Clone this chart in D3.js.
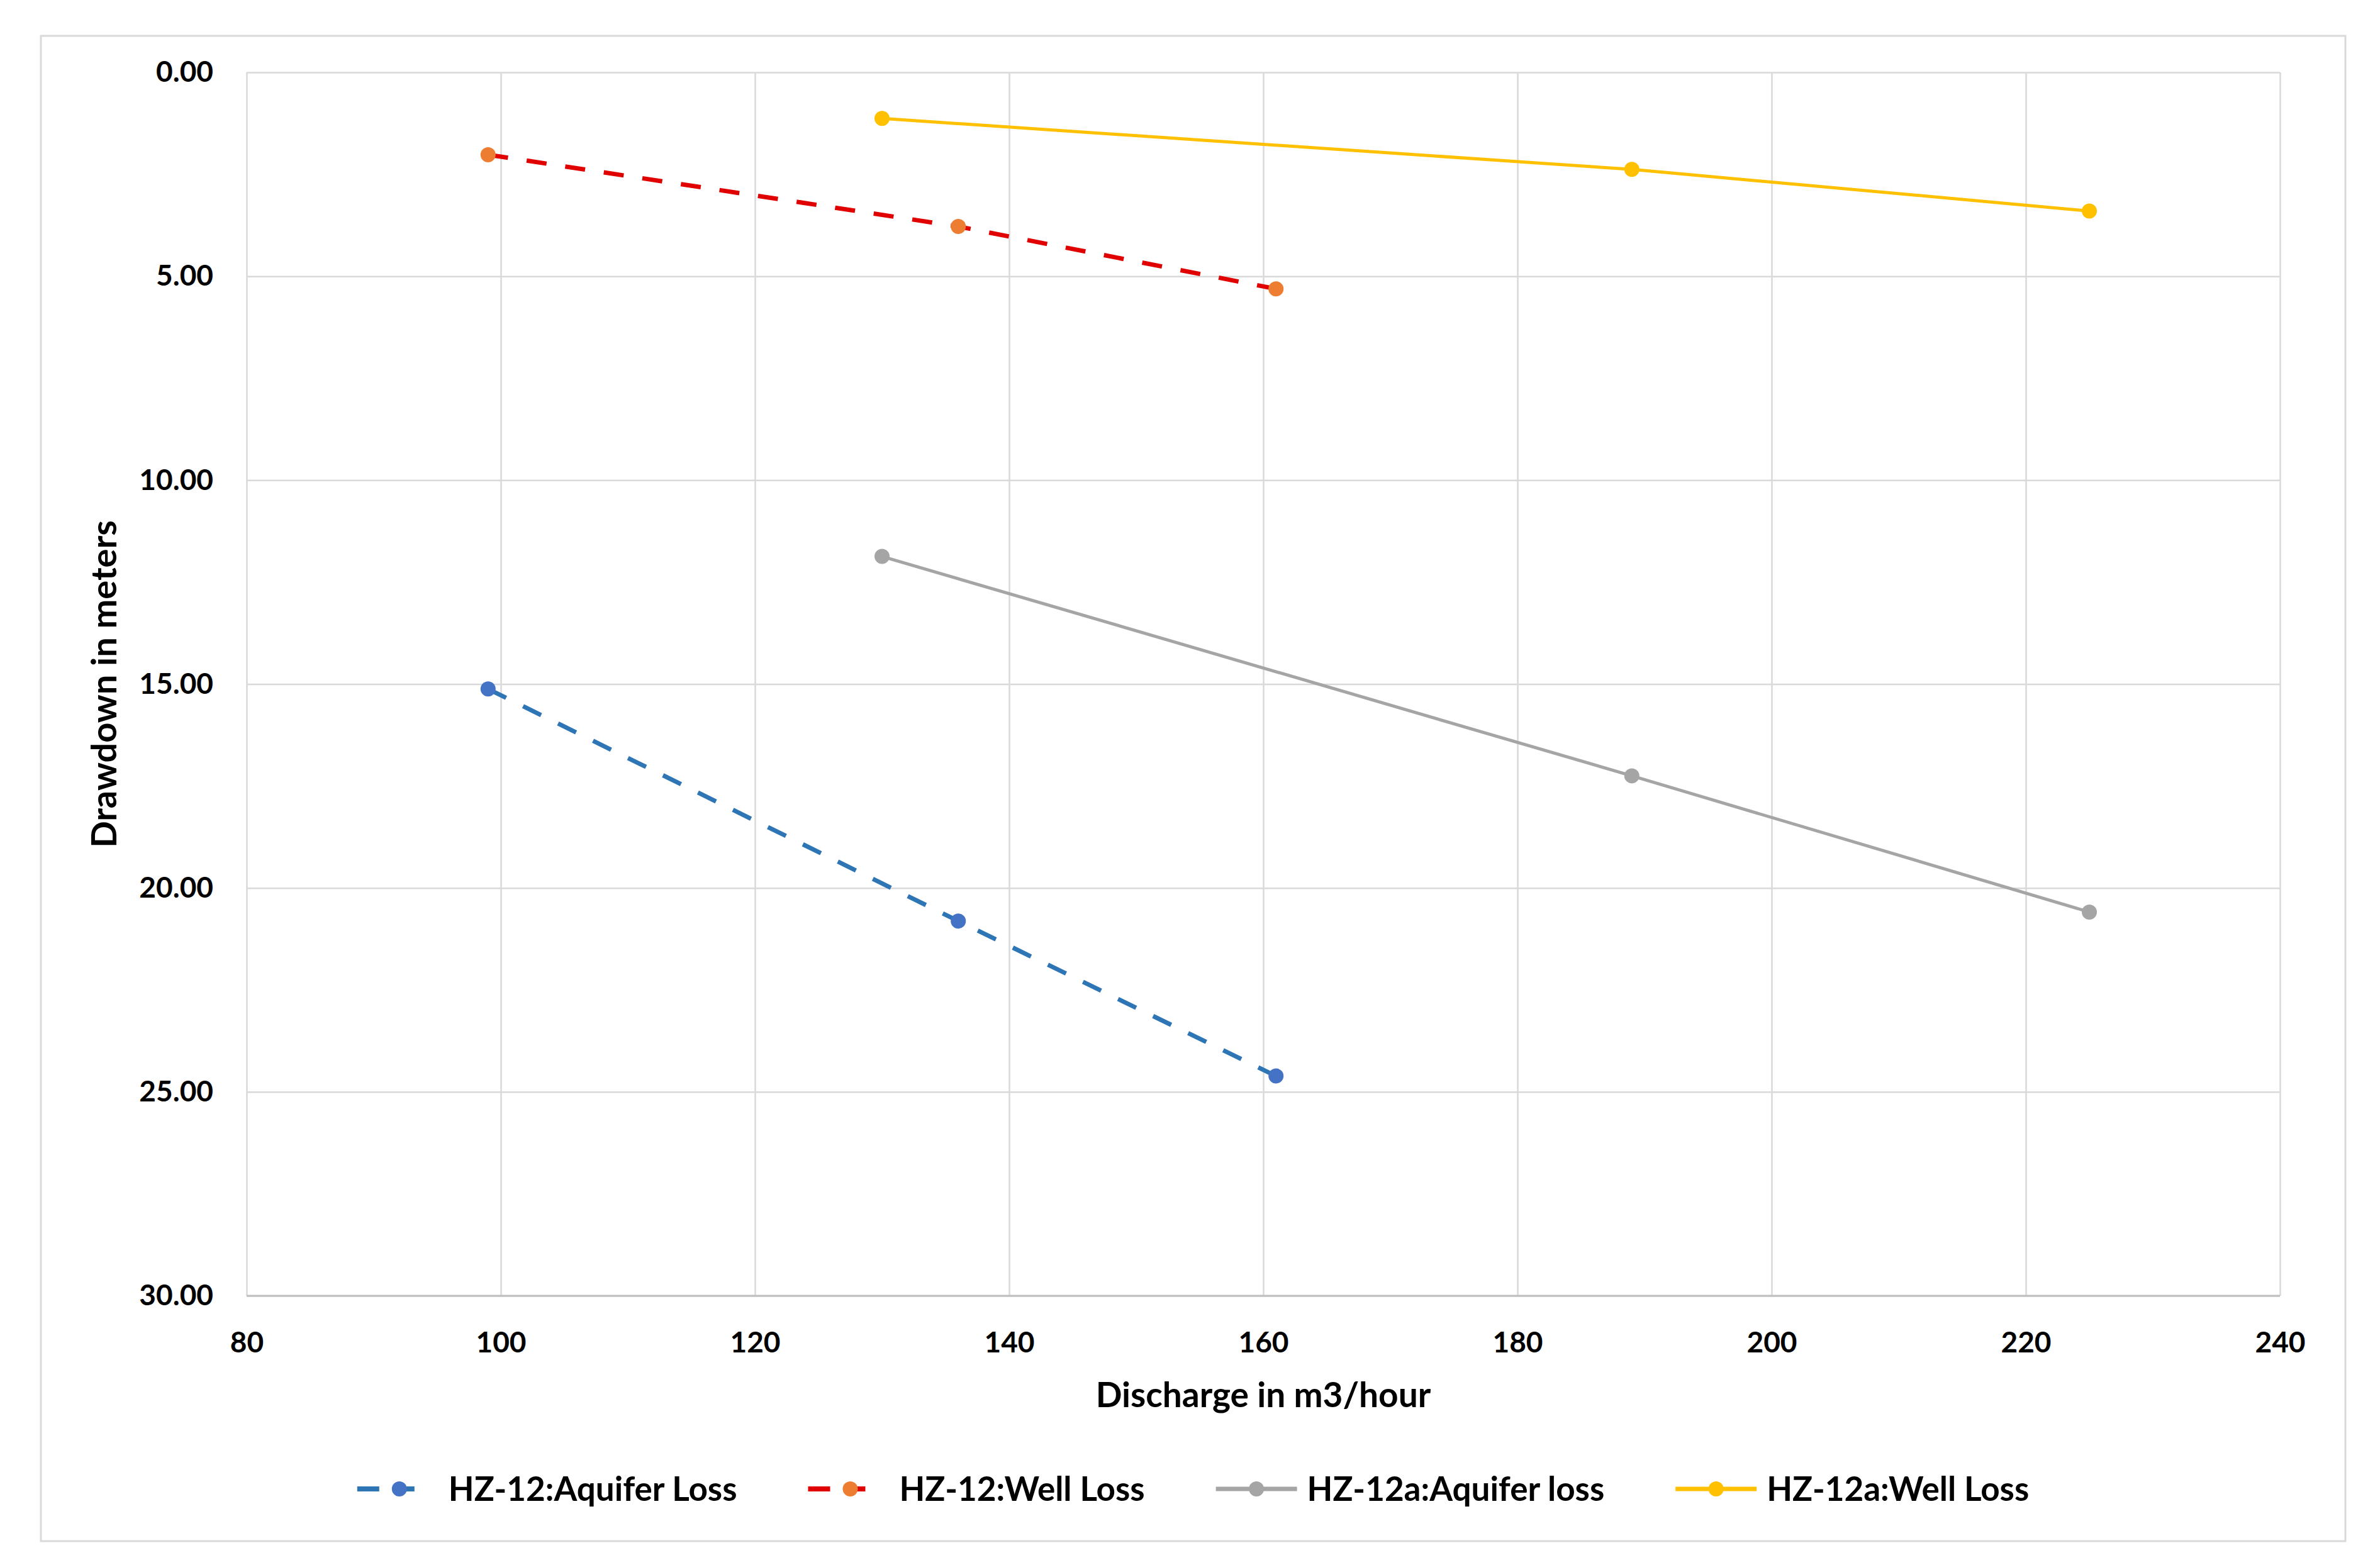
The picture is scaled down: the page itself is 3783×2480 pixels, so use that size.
<!DOCTYPE html>
<html>
<head>
<meta charset="utf-8">
<script src="https://cdn.jsdelivr.net/npm/d3@7"></script>
<style>
  html, body { margin: 0; padding: 0; background: #ffffff; }
  svg { display: block; }
  text { font-family: Lato, "Open Sans", sans-serif; font-weight: 700; fill: #000; }
</style>
</head>
<body>
<svg id="chart" width="3783" height="2480"></svg>
<script>
// ---------------- data ----------------
const seriesNames = ["HZ-12:Aquifer Loss", "HZ-12:Well Loss", "HZ-12a:Aquifer loss", "HZ-12a:Well Loss"];
const hz12Discharge  = [99, 136, 161];
const hz12aDischarge = [130, 189, 225];
const hz12AquiferLoss  = [15.12, 20.81, 24.61];
const hz12WellLoss     = [2.02, 3.78, 5.31];
const hz12aAquiferLoss = [11.87, 17.25, 20.59];
const hz12aWellLoss    = [1.13, 2.38, 3.40];
const xTicks = [80, 100, 120, 140, 160, 180, 200, 220, 240];
const yTicks = [0, 5, 10, 15, 20, 25, 30];
const xTitle = "Discharge in m3/hour";
const yTitle = "Drawdown in meters";

// ---------------- styles ----------------
const styles = [
  { line: "#2E75B6", marker: "#4472C4", width: 7, dash: "32,30", legendDash: "35,21" },
  { line: "#E00000", marker: "#ED7D31", width: 7, dash: "32,30", legendDash: "35,21" },
  { line: "#A5A5A5", marker: "#A5A5A5", width: 5, dash: null, legendDash: null },
  { line: "#FFC000", marker: "#FFC000", width: 5, dash: null, legendDash: null }
];
const series = [
  { name: seriesNames[0], xs: hz12Discharge,  ys: hz12AquiferLoss },
  { name: seriesNames[1], xs: hz12Discharge,  ys: hz12WellLoss },
  { name: seriesNames[2], xs: hz12aDischarge, ys: hz12aAquiferLoss },
  { name: seriesNames[3], xs: hz12aDischarge, ys: hz12aWellLoss }
].map((s, i) => Object.assign(s, styles[i], { points: s.xs.map((x, j) => ({ x, y: s.ys[j] })) }));

// ---------------- layout ----------------
const svg = d3.select("#chart");
const W = 3783, H = 2480;
const frame = { left: 65, top: 57, right: 3728, bottom: 2450 };
const plot = { left: 392, top: 115, right: 3624, bottom: 2060 };

svg.append("rect").attr("width", W).attr("height", H).attr("fill", "#fff");
svg.append("rect")
  .attr("x", frame.left).attr("y", frame.top)
  .attr("width", frame.right - frame.left).attr("height", frame.bottom - frame.top)
  .attr("fill", "#fff").attr("stroke", "#d9d9d9").attr("stroke-width", 3);

const x = d3.scaleLinear().domain([80, 240]).range([plot.left, plot.right]);
const y = d3.scaleLinear().domain([0, 30]).range([plot.top, plot.bottom]);

// gridlines + y labels
const yAxis = d3.axisLeft(y).tickValues(yTicks).tickFormat(d3.format(".2f"))
  .tickSizeInner(-(plot.right - plot.left)).tickSizeOuter(0).tickPadding(53);
const gy = svg.append("g").attr("transform", `translate(${plot.left},0)`).call(yAxis);
gy.select(".domain").remove();
gy.selectAll(".tick line").attr("stroke", "#d9d9d9").attr("stroke-width", 2.5);
gy.selectAll(".tick text").attr("font-size", 46).attr("font-family", "Lato, sans-serif").attr("font-weight", 700).attr("fill", "#000");

const xAxis = d3.axisBottom(x).tickValues(xTicks).tickFormat(d3.format("d"))
  .tickSizeInner(-(plot.bottom - plot.top)).tickSizeOuter(0).tickPadding(57);
const gx = svg.append("g").attr("transform", `translate(0,${plot.bottom})`).call(xAxis);
gx.select(".domain").remove();
gx.selectAll(".tick line").attr("stroke", "#d9d9d9").attr("stroke-width", 2.5);
gx.selectAll(".tick text").attr("font-size", 46).attr("font-family", "Lato, sans-serif").attr("font-weight", 700).attr("fill", "#000");

// bottom axis line
svg.append("line")
  .attr("x1", plot.left).attr("x2", plot.right)
  .attr("y1", plot.bottom).attr("y2", plot.bottom)
  .attr("stroke", "#bfbfbf").attr("stroke-width", 3);

// axis titles
svg.append("text")
  .attr("x", (plot.left + plot.right) / 2).attr("y", 2237)
  .attr("text-anchor", "middle").attr("font-size", 55)
  .text(xTitle);
svg.append("text")
  .attr("transform", `translate(185,${(plot.top + plot.bottom) / 2}) rotate(-90)`)
  .attr("text-anchor", "middle").attr("font-size", 56)
  .text(yTitle);

// series
const line = d3.line().x(d => x(d.x)).y(d => y(d.y));
const gs = svg.append("g");
series.forEach(s => {
  gs.append("path").datum(s.points)
    .attr("d", line).attr("fill", "none")
    .attr("stroke", s.line).attr("stroke-width", s.width)
    .attr("stroke-dasharray", s.dash);
  gs.selectAll(null).data(s.points).enter().append("circle")
    .attr("cx", d => x(d.x)).attr("cy", d => y(d.y)).attr("r", 12)
    .attr("fill", s.marker);
});

// legend
const legendY = 2367;
const sampleW = 129, textGap = 16, itemGap = 113;
const lg = svg.append("g");
const items = series.map(s => {
  const g = lg.append("g");
  const t = g.append("text").attr("x", sampleW + textGap).attr("y", 0).attr("dy", "0.35em")
    .attr("font-size", 53).text(s.name);
  return { g, s, w: sampleW + textGap + t.node().getComputedTextLength() };
});
const total = d3.sum(items, d => d.w) + itemGap * (items.length - 1);
let cx = (frame.left + frame.right) / 2 - total / 2;
items.forEach(it => {
  it.g.attr("transform", `translate(${cx},${legendY})`);
  if (it.s.dash) {
    it.g.append("line").attr("x1", 0).attr("x2", 98).attr("y1", 0).attr("y2", 0)
      .attr("stroke", it.s.line).attr("stroke-width", it.s.width + 1).attr("stroke-dasharray", it.s.legendDash);
    it.g.append("circle").attr("cx", 67).attr("cy", 0).attr("r", 12).attr("fill", it.s.marker);
  } else {
    it.g.append("line").attr("x1", 0).attr("x2", sampleW).attr("y1", 0).attr("y2", 0)
      .attr("stroke", it.s.line).attr("stroke-width", it.s.width + 2);
    it.g.append("circle").attr("cx", sampleW / 2).attr("cy", 0).attr("r", 12).attr("fill", it.s.marker);
  }
  cx += it.w + itemGap;
});
</script>
</body>
</html>
